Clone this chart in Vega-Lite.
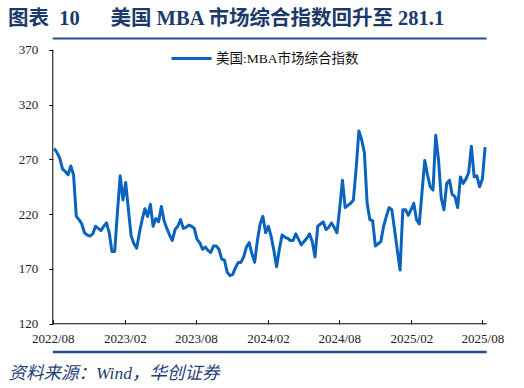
{
  "$schema": "https://vega.github.io/schema/vega-lite/v6.json",
  "width": 517,
  "height": 320,
  "autosize": {"type": "none"},
  "padding": {"left": 3, "top": 35, "right": 4, "bottom": 33},
  "background": "white",
  "title": {
    "text": "图表\u00a0\u00a010\u00a0\u00a0\u00a0\u00a0\u00a0 美国 MBA 市场综合指数回升至 281.1",
    "anchor": "start",
    "frame": "group",
    "baseline": "alphabetic",
    "dx": 5,
    "dy": 26,
    "offset": 16,
    "font": "Liberation Serif, Noto Sans CJK SC",
    "fontSize": 20.5,
    "fontWeight": "bold",
    "color": "#1b3a6b"
  },
  "config": {
    "view": {"stroke": null},
    "font": "Liberation Serif, Noto Sans CJK SC"
  },
  "layer": [
    {
      "data": {
        "values": [
          {"date": "2022-08-05", "value": 280},
          {"date": "2022-08-12", "value": 276},
          {"date": "2022-08-19", "value": 271},
          {"date": "2022-08-26", "value": 261},
          {"date": "2022-09-02", "value": 259},
          {"date": "2022-09-09", "value": 256},
          {"date": "2022-09-16", "value": 264},
          {"date": "2022-09-23", "value": 256},
          {"date": "2022-09-30", "value": 218},
          {"date": "2022-10-07", "value": 215},
          {"date": "2022-10-14", "value": 211},
          {"date": "2022-10-21", "value": 203},
          {"date": "2022-10-28", "value": 201},
          {"date": "2022-11-04", "value": 200},
          {"date": "2022-11-11", "value": 202},
          {"date": "2022-11-18", "value": 209},
          {"date": "2022-11-25", "value": 207},
          {"date": "2022-12-02", "value": 205},
          {"date": "2022-12-09", "value": 209},
          {"date": "2022-12-16", "value": 212},
          {"date": "2022-12-23", "value": 203},
          {"date": "2022-12-30", "value": 186},
          {"date": "2023-01-06", "value": 186},
          {"date": "2023-01-13", "value": 222},
          {"date": "2023-01-20", "value": 255},
          {"date": "2023-01-27", "value": 233},
          {"date": "2023-02-03", "value": 249},
          {"date": "2023-02-10", "value": 224},
          {"date": "2023-02-17", "value": 200},
          {"date": "2023-02-24", "value": 193},
          {"date": "2023-03-03", "value": 189},
          {"date": "2023-03-10", "value": 203},
          {"date": "2023-03-17", "value": 215},
          {"date": "2023-03-24", "value": 225},
          {"date": "2023-03-31", "value": 218},
          {"date": "2023-04-07", "value": 229},
          {"date": "2023-04-14", "value": 209},
          {"date": "2023-04-21", "value": 216},
          {"date": "2023-04-28", "value": 213},
          {"date": "2023-05-05", "value": 227},
          {"date": "2023-05-12", "value": 214},
          {"date": "2023-05-19", "value": 207},
          {"date": "2023-05-26", "value": 201},
          {"date": "2023-06-02", "value": 196},
          {"date": "2023-06-09", "value": 206},
          {"date": "2023-06-16", "value": 209},
          {"date": "2023-06-23", "value": 215},
          {"date": "2023-06-30", "value": 207},
          {"date": "2023-07-07", "value": 208},
          {"date": "2023-07-14", "value": 210},
          {"date": "2023-07-21", "value": 209},
          {"date": "2023-07-28", "value": 207},
          {"date": "2023-08-04", "value": 197},
          {"date": "2023-08-11", "value": 194},
          {"date": "2023-08-18", "value": 188},
          {"date": "2023-08-25", "value": 190},
          {"date": "2023-09-01", "value": 187},
          {"date": "2023-09-08", "value": 185},
          {"date": "2023-09-15", "value": 191},
          {"date": "2023-09-22", "value": 191},
          {"date": "2023-09-29", "value": 188},
          {"date": "2023-10-06", "value": 179},
          {"date": "2023-10-13", "value": 178},
          {"date": "2023-10-20", "value": 167},
          {"date": "2023-10-27", "value": 164},
          {"date": "2023-11-03", "value": 165},
          {"date": "2023-11-10", "value": 171},
          {"date": "2023-11-17", "value": 176},
          {"date": "2023-11-24", "value": 176},
          {"date": "2023-12-01", "value": 181},
          {"date": "2023-12-08", "value": 190},
          {"date": "2023-12-15", "value": 194},
          {"date": "2023-12-22", "value": 184},
          {"date": "2023-12-29", "value": 176},
          {"date": "2024-01-05", "value": 196},
          {"date": "2024-01-12", "value": 211},
          {"date": "2024-01-19", "value": 218},
          {"date": "2024-01-26", "value": 203},
          {"date": "2024-02-02", "value": 209},
          {"date": "2024-02-09", "value": 200},
          {"date": "2024-02-16", "value": 187},
          {"date": "2024-02-23", "value": 172},
          {"date": "2024-03-01", "value": 188},
          {"date": "2024-03-08", "value": 201},
          {"date": "2024-03-15", "value": 199},
          {"date": "2024-03-22", "value": 198},
          {"date": "2024-03-29", "value": 196},
          {"date": "2024-04-05", "value": 196},
          {"date": "2024-04-12", "value": 202},
          {"date": "2024-04-19", "value": 197},
          {"date": "2024-04-26", "value": 192},
          {"date": "2024-05-03", "value": 195},
          {"date": "2024-05-10", "value": 198},
          {"date": "2024-05-17", "value": 202},
          {"date": "2024-05-24", "value": 195},
          {"date": "2024-05-31", "value": 181},
          {"date": "2024-06-07", "value": 209},
          {"date": "2024-06-14", "value": 211},
          {"date": "2024-06-21", "value": 213},
          {"date": "2024-06-28", "value": 206},
          {"date": "2024-07-05", "value": 208},
          {"date": "2024-07-12", "value": 212},
          {"date": "2024-07-19", "value": 208},
          {"date": "2024-07-26", "value": 203},
          {"date": "2024-08-02", "value": 225},
          {"date": "2024-08-09", "value": 251},
          {"date": "2024-08-16", "value": 226},
          {"date": "2024-08-23", "value": 228},
          {"date": "2024-08-30", "value": 230},
          {"date": "2024-09-06", "value": 233},
          {"date": "2024-09-13", "value": 262},
          {"date": "2024-09-20", "value": 296},
          {"date": "2024-09-27", "value": 288},
          {"date": "2024-10-04", "value": 276},
          {"date": "2024-10-11", "value": 230},
          {"date": "2024-10-18", "value": 215},
          {"date": "2024-10-25", "value": 214},
          {"date": "2024-11-01", "value": 191},
          {"date": "2024-11-08", "value": 193},
          {"date": "2024-11-15", "value": 195},
          {"date": "2024-11-22", "value": 209},
          {"date": "2024-11-29", "value": 218},
          {"date": "2024-12-06", "value": 226},
          {"date": "2024-12-13", "value": 224},
          {"date": "2024-12-20", "value": 206},
          {"date": "2024-12-27", "value": 187},
          {"date": "2025-01-03", "value": 169},
          {"date": "2025-01-10", "value": 224},
          {"date": "2025-01-17", "value": 224},
          {"date": "2025-01-24", "value": 219},
          {"date": "2025-01-31", "value": 224},
          {"date": "2025-02-07", "value": 230},
          {"date": "2025-02-14", "value": 215},
          {"date": "2025-02-21", "value": 211},
          {"date": "2025-02-28", "value": 240},
          {"date": "2025-03-07", "value": 269},
          {"date": "2025-03-14", "value": 256},
          {"date": "2025-03-21", "value": 245},
          {"date": "2025-03-28", "value": 242},
          {"date": "2025-04-04", "value": 292},
          {"date": "2025-04-11", "value": 270},
          {"date": "2025-04-18", "value": 235},
          {"date": "2025-04-25", "value": 224},
          {"date": "2025-05-02", "value": 248},
          {"date": "2025-05-09", "value": 251},
          {"date": "2025-05-16", "value": 238},
          {"date": "2025-05-23", "value": 236},
          {"date": "2025-05-30", "value": 226},
          {"date": "2025-06-06", "value": 254},
          {"date": "2025-06-13", "value": 248},
          {"date": "2025-06-20", "value": 252},
          {"date": "2025-06-27", "value": 258},
          {"date": "2025-07-04", "value": 282},
          {"date": "2025-07-11", "value": 254},
          {"date": "2025-07-18", "value": 255},
          {"date": "2025-07-25", "value": 245},
          {"date": "2025-08-01", "value": 252},
          {"date": "2025-08-08", "value": 281.1}
        ]
      },
      "mark": {"type": "line", "strokeWidth": 3, "strokeJoin": "round"},
      "encoding": {
        "x": {
          "field": "date",
          "type": "temporal",
          "title": "资料来源：Wind，华创证券",
          "scale": {
            "domain": [{"year": 2022, "month": 3, "date": 27}, {"year": 2025, "month": 11, "date": 5}],
            "nice": false
          },
          "axis": {
            "values": [
              {"year": 2022, "month": 8, "date": 1},
              {"year": 2023, "month": 2, "date": 1},
              {"year": 2023, "month": 8, "date": 1},
              {"year": 2024, "month": 2, "date": 1},
              {"year": 2024, "month": 8, "date": 1},
              {"year": 2025, "month": 2, "date": 1},
              {"year": 2025, "month": 8, "date": 1}
            ],
            "format": "%Y/%m",
            "grid": false,
            "domain": false,
            "offset": -31.2,
            "tickColor": "#000000",
            "tickSize": -4,
            "labelPadding": 13,
            "labelFont": "Liberation Serif",
            "labelFontSize": 13,
            "labelColor": "#222222",
            "labelFlush": false,
            "labelOverlap": false,
            "titleAnchor": "start",
            "titleAlign": "left",
            "titleBaseline": "alphabetic",
            "titleX": 5,
            "titleY": 55,
            "titleFont": "Liberation Serif, Noto Sans CJK SC",
            "titleFontSize": 17.5,
            "titleFontStyle": "italic",
            "titleFontWeight": "normal",
            "titleColor": "#1f3f78"
          }
        },
        "y": {
          "field": "value",
          "type": "quantitative",
          "scale": {"domain": [91.5, 383.5], "zero": false, "nice": false},
          "axis": {
            "values": [120, 170, 220, 270, 320, 370],
            "title": null,
            "grid": false,
            "domain": false,
            "offset": -49.8,
            "tickColor": "#000000",
            "tickSize": 4,
            "labelPadding": 11,
            "labelFont": "Liberation Serif",
            "labelFontSize": 13,
            "labelColor": "#222222"
          }
        },
        "color": {
          "datum": "美国:MBA市场综合指数",
          "type": "nominal",
          "scale": {"range": ["#0a64be"]},
          "legend": {
            "title": null,
            "orient": "none",
            "legendX": 167,
            "legendY": 2,
            "padding": 0,
            "symbolType": "stroke",
            "symbolSize": 1600,
            "symbolStrokeWidth": 3,
            "labelOffset": 3,
            "labelFont": "Liberation Serif, Noto Sans CJK SC",
            "labelFontSize": 13.5,
            "labelColor": "#111111"
          }
        }
      }
    },
    {
      "data": {"values": [{"line": "y axis"}]},
      "mark": {"type": "rule", "color": "#000000", "strokeWidth": 1},
      "encoding": {
        "x": {"datum": {"year": 2022, "month": 8, "date": 1}, "type": "temporal"},
        "y": {"datum": 120, "type": "quantitative"},
        "y2": {"datum": 370}
      }
    },
    {
      "data": {"values": [{"line": "x axis"}]},
      "mark": {"type": "rule", "color": "#000000", "strokeWidth": 1},
      "encoding": {
        "x": {"datum": {"year": 2022, "month": 8, "date": 1}, "type": "temporal"},
        "x2": {"datum": {"year": 2025, "month": 8, "date": 12}},
        "y": {"datum": 120, "type": "quantitative"}
      }
    },
    {
      "data": {"values": [{"line": "title underline"}]},
      "mark": {"type": "rule", "color": "#23508f", "strokeWidth": 2},
      "encoding": {
        "x": {"datum": {"year": 2022, "month": 8, "date": 1}, "type": "temporal"},
        "x2": {"datum": {"year": 2025, "month": 8, "date": 12}},
        "y": {"datum": 380.3, "type": "quantitative"}
      }
    },
    {
      "data": {"values": [{"line": "footer rule"}]},
      "mark": {"type": "rule", "color": "#23508f", "strokeWidth": 2.5},
      "encoding": {
        "x": {"datum": {"year": 2022, "month": 8, "date": 1}, "type": "temporal"},
        "x2": {"datum": {"year": 2025, "month": 8, "date": 12}},
        "y": {"datum": 94.24, "type": "quantitative"}
      }
    }
  ]
}
